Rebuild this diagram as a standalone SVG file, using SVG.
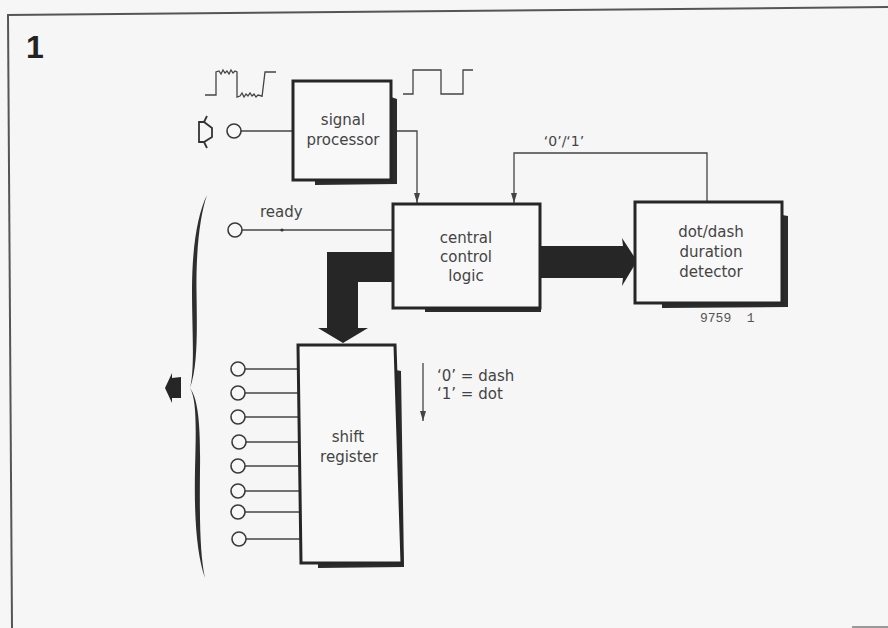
<svg xmlns="http://www.w3.org/2000/svg" width="888" height="628" viewBox="0 0 888 628">
<style>
.bg{fill:#f6f6f6}
.box{fill:#f8f8f8;stroke:#262626;stroke-width:3}
.sh{fill:#2b2b2b}
.ln{fill:none;stroke:#444;stroke-width:1.3}
.pin{fill:#f8f8f8;stroke:#3a3a3a;stroke-width:1.6}
.big{fill:#262626}
.t{font-family:"DejaVu Sans",sans-serif;font-size:15px;fill:#444;text-anchor:middle}
.tl{font-family:"DejaVu Sans",sans-serif;font-size:15px;fill:#444}
.frame{fill:none;stroke:#555;stroke-width:2}
</style>
<defs>
<marker id="ahd" markerUnits="userSpaceOnUse" markerWidth="6" markerHeight="10" refX="3" refY="10" orient="0" viewBox="0 0 6 10">
<path d="M0,0 L3,10 L6,0 Z" fill="#444"/>
</marker>
</defs>
<rect class="bg" x="0" y="0" width="888" height="628"/>
<g id="frame">
<line class="frame" x1="7" y1="15" x2="888" y2="7"/>
<line class="frame" x1="8" y1="15" x2="12" y2="628"/>
<line x1="852" y1="627" x2="888" y2="627" stroke="#999" stroke-width="2"/>
<text x="35" y="58" font-family="Liberation Sans,Arial,sans-serif" font-weight="bold" font-size="32" fill="#222" text-anchor="middle">1</text>
</g>
<g id="waveforms" fill="none" stroke="#444" stroke-width="1.3">
<path d="M205,95 L216,95 L216,72 L219,71 L221,74 L223,70 L225,73 L227,71 L229,74 L231,70 L233,73 L235,71 L237,72 L237,97 L240,96 L242,93 L244,97 L246,94 L248,96 L250,93 L252,96 L254,94 L256,97 L258,95 L262,96 L262,97 L265,72 L276,72"/>
<path d="M403,94 L413,94 L413,70 L441,70 L441,94 L463,94 L463,70 L473,70"/>
</g>
<g id="microphone" fill="none" stroke="#333" stroke-width="1.8" stroke-linejoin="miter">
<path d="M199,122 L204,122 L212,128 L212,137 L204,142 L199,142 Z M204,122 L207,116 M204,142 L207,148"/>
</g>
<g id="connectors">
<line class="ln" x1="241" y1="131" x2="293" y2="131"/>
<polyline class="ln" points="391,131 417,131 417,203" marker-end="url(#ahd)"/>
<polyline class="ln" points="707,202 707,153 514,153 514,203" marker-end="url(#ahd)"/>
<line class="ln" x1="242" y1="230" x2="393" y2="230"/>
<circle cx="282" cy="230" r="1.6" fill="#333"/>
<line class="ln" x1="245" y1="369" x2="298" y2="369"/>
<line class="ln" x1="245" y1="393" x2="298" y2="393"/>
<line class="ln" x1="245" y1="417" x2="299" y2="417"/>
<line class="ln" x1="246" y1="442" x2="299" y2="442"/>
<line class="ln" x1="245" y1="466" x2="300" y2="466"/>
<line class="ln" x1="245" y1="491" x2="300" y2="491"/>
<line class="ln" x1="245" y1="512" x2="301" y2="512"/>
<line class="ln" x1="246" y1="539" x2="301" y2="539"/>
<line class="ln" x1="423" y1="363" x2="423" y2="421" marker-end="url(#ahd)"/>
<polygon class="big" points="540,246 623,246 622,238 637,261 622,286 623,278 540,278"/>
<polygon class="big" points="393,252 327,252 327,328 318,328 343,343 368,328 358,328 358,282 393,282"/>
<polygon class="big" points="165,388 172,373 172,378 181,377 181,398 172,398 172,403"/>
</g>
<g id="pins">
<circle class="pin" cx="234" cy="131" r="7"/>
<circle class="pin" cx="235" cy="230" r="7"/>
<circle class="pin" cx="238" cy="369" r="7"/>
<circle class="pin" cx="238" cy="393" r="7"/>
<circle class="pin" cx="238" cy="417" r="7"/>
<circle class="pin" cx="239" cy="442" r="7"/>
<circle class="pin" cx="238" cy="466" r="7"/>
<circle class="pin" cx="238" cy="491" r="7"/>
<circle class="pin" cx="238" cy="512" r="7"/>
<circle class="pin" cx="239" cy="539" r="7"/>
</g>
<g id="brace">
<path d="M207,195 C197,215 192,250 192,290 C192,330 195,368 190,388 C198,366 197,330 196.5,290 C196,250 200,215 207,195 Z" fill="#2e2e2e"/>
<path d="M190,388 C197,400 196,430 195,470 C194,520 197,555 205,578 C200,555 199.5,520 200,470 C200.5,430 199,400 190,388 Z" fill="#2e2e2e"/>
</g>
<g id="signal-processor">
<path class="sh" d="M391,97 L397,99 L397,184 L315,185 L315,180 L391,180 Z"/>
<rect class="box" x="293" y="81" width="98" height="99"/>
<text class="t" x="343" y="125">signal</text>
<text class="t" x="343" y="145">processor</text>
</g>
<g id="central-control-logic">
<path class="sh" d="M425,308 L541,308 L541,312 L425,312 Z"/>
<rect class="box" x="393" y="204" width="147" height="104"/>
<text class="t" x="466" y="243">central</text>
<text class="t" x="466" y="262">control</text>
<text class="t" x="466" y="281">logic</text>
</g>
<g id="ready-label">
<text class="tl" x="260" y="217">ready</text>
</g>
<g id="dot-dash-detector">
<path class="sh" d="M782,215 L788,216 L788,307 L662,308 L662,303 L782,303 Z"/>
<rect class="box" x="635" y="202" width="147" height="101"/>
<text class="t" x="711" y="237">dot/dash</text>
<text class="t" x="711" y="257">duration</text>
<text class="t" x="711" y="277">detector</text>
<text x="700" y="322" font-family="Liberation Mono,monospace" font-size="13" fill="#555" xml:space="preserve">9759  1</text>
</g>
<g id="feedback-label">
<text font-family="DejaVu Sans,sans-serif" font-size="14" fill="#444" text-anchor="middle" x="564" y="146">‘0’/‘1’</text>
</g>
<g id="shift-register">
<path class="sh" d="M396,370 L401,371 L404,567 L318,568 L318,563 L402,563 Z"/>
<polygon class="box" points="298,345 395,345 402,563 301,563"/>
<text class="t" x="348" y="442">shift</text>
<text class="t" x="349" y="462">register</text>
</g>
<g id="legend">
<text class="tl" x="437" y="381">‘0’ = dash</text>
<text class="tl" x="437" y="399">‘1’ = dot</text>
</g>
</svg>
